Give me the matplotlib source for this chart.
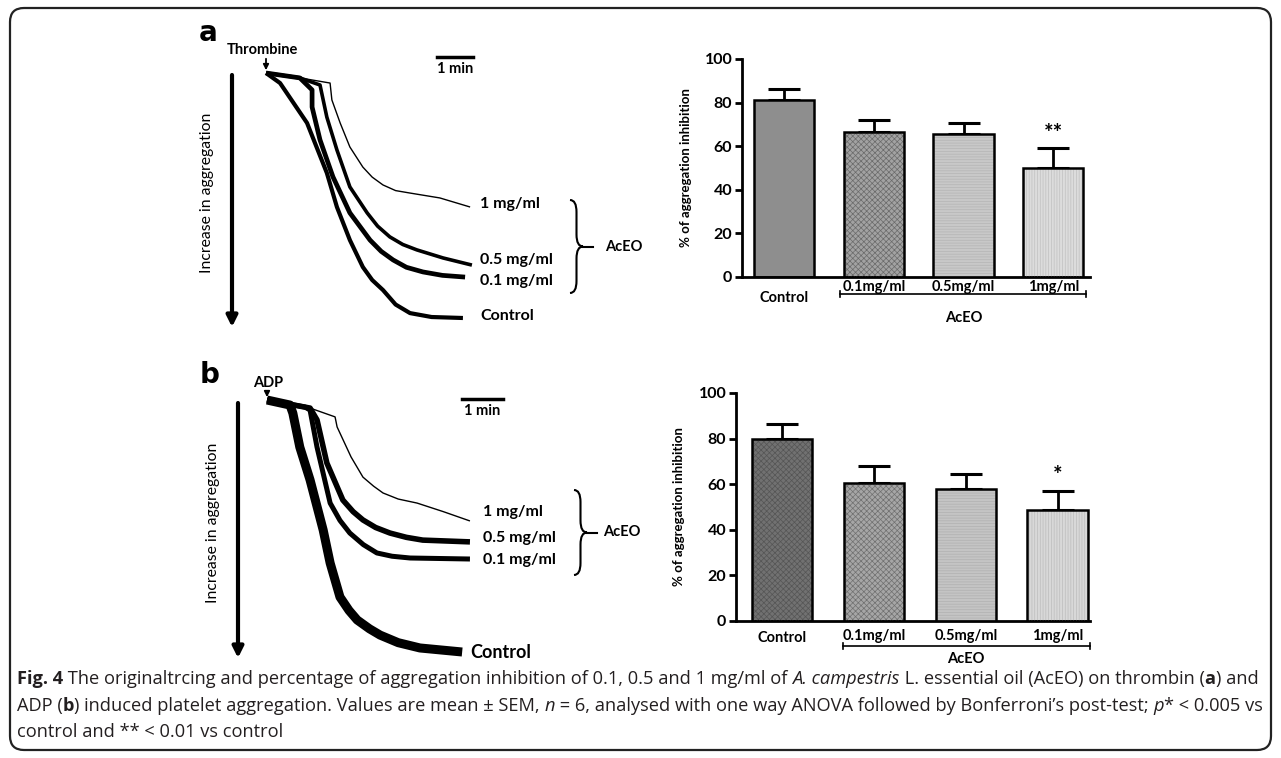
import numpy as np
import matplotlib
matplotlib.use('Agg')
import matplotlib.pyplot as plt
from matplotlib import font_manager
from matplotlib.patches import FancyBboxPatch, PathPatch
from matplotlib.path import Path

# ---- bar chart data (% of aggregation inhibition, mean + SEM) ----
groups = ['Control', '0.1mg/ml', '0.5mg/ml', '1mg/ml']
thrombin_mean = [81.2, 66.7, 65.6, 50.0]
thrombin_sem = [5.0, 5.3, 5.2, 9.3]
adp_mean = [79.8, 60.5, 57.9, 48.7]
adp_sem = [6.6, 7.5, 6.6, 8.3]

# ---- aggregation traces (time in min, aggregation in arbitrary %) ----
trace_names = ['1 mg/ml', '0.5 mg/ml', '0.1 mg/ml', 'Control']
thr_t = [
    [0, 0.94, 1.78, 1.83, 2.06, 2.33, 2.69, 2.95, 3.25, 3.6, 4.0, 4.83, 5.67],
    [0, 0.94, 1.5, 1.69, 1.97, 2.33, 2.81, 3.1, 3.44, 3.8, 4.19, 4.92, 5.72],
    [0, 0.94, 1.28, 1.28, 1.5, 1.86, 2.33, 2.89, 3.2, 3.53, 3.9, 4.36, 4.9, 5.53],
    [0, 0.39, 1.14, 1.69, 1.97, 2.33, 2.69, 2.95, 3.25, 3.6, 4.0, 4.6, 5.47],
]
thr_agg = [
    [0, 2.0, 4.1, 11.0, 20.4, 30.2, 38.4, 42.5, 45.7, 48.0, 49.0, 51.0, 54.7],
    [0, 2.0, 4.9, 18.0, 31.4, 46.5, 57.1, 62.5, 66.9, 70.0, 72.2, 75.5, 78.4],
    [0, 2.0, 6.9, 13.9, 27.3, 42.4, 57.1, 68.2, 72.8, 76.3, 79.3, 81.2, 82.6, 83.3],
    [0, 4.1, 20.4, 40.8, 54.7, 68.2, 79.2, 84.5, 88.6, 94.5, 98.0, 99.6, 100.0],
]
adp_t = [
    [0, 1.05, 1.66, 1.71, 2.05, 2.34, 2.6, 2.83, 3.2, 3.66, 4.3, 4.95],
    [0, 1.05, 1.22, 1.46, 1.85, 2.1, 2.34, 2.65, 3.0, 3.4, 3.8, 4.95],
    [0, 0.93, 1.05, 1.22, 1.54, 1.78, 2.02, 2.35, 2.68, 3.05, 3.49, 4.95],
    [0, 0.56, 0.63, 0.80, 1.05, 1.37, 1.54, 1.78, 2.0, 2.20, 2.5, 2.76, 3.2, 3.73, 4.76],
]
adp_agg = [
    [0, 3.2, 6.7, 10.7, 22.6, 30.6, 34.2, 36.9, 39.3, 40.9, 44.3, 48.0],
    [0, 3.2, 7.9, 25.0, 39.7, 44.3, 47.6, 50.6, 52.8, 54.5, 55.6, 56.3],
    [0, 2.8, 4.0, 18.7, 40.9, 47.8, 52.8, 57.4, 60.7, 62.0, 62.7, 63.1],
    [0, 2.0, 5.2, 18.7, 31.7, 51.6, 64.7, 78.2, 83.5, 87.3, 90.8, 93.3, 96.3, 98.4, 100.0],
]

W, H = 1281, 758


def has_font(name):
    try:
        font_manager.findfont(font_manager.FontProperties(family=name), fallback_to_default=False)
        return True
    except Exception:
        return False


LAB = 'Lato' if has_font('Lato') else 'DejaVu Sans'
NARROW = 'Liberation Sans Narrow' if has_font('Liberation Sans Narrow') else LAB
CAP = 'Open Sans' if has_font('Open Sans') else 'DejaVu Sans'
plt.rcParams['hatch.linewidth'] = 0.5

fig = plt.figure(figsize=(W / 100, H / 100), dpi=100)
rend = fig.canvas.get_renderer()


def rect(x0, y0, x1, y1):
    return [x0 / W, 1 - y1 / H, (x1 - x0) / W, (y1 - y0) / H]


ov = fig.add_axes([0, 0, 1, 1])
ov.set_xlim(0, W)
ov.set_ylim(H, 0)
ov.axis('off')

ov.add_patch(FancyBboxPatch((10, 8), 1261, 742, boxstyle='round,pad=0,rounding_size=14',
                            fc='none', ec='#222222', lw=1.6))


def fit_text(x, y, s, width, size0=12, **kw):
    t = ov.text(x, y, s, fontsize=size0, **kw)
    bb = t.get_window_extent(rend)
    w = bb.height if kw.get('rotation') == 90 else bb.width
    t.set_fontsize(size0 * width / w)
    return t


def brace(x0, ytop, ybot, w, dash):
    ym = (ytop + ybot) / 2
    r = min(12, (ybot - ytop) / 4)
    xm = x0 + w / 2
    verts = [(x0, ytop), (xm, ytop), (xm, ytop + r),
             (xm, ym - r), (xm, ym), (x0 + w, ym),
             (xm, ym), (xm, ym + r),
             (xm, ybot - r), (xm, ybot), (x0, ybot)]
    codes = [Path.MOVETO, Path.CURVE3, Path.CURVE3,
             Path.LINETO, Path.CURVE3, Path.CURVE3,
             Path.CURVE3, Path.CURVE3,
             Path.LINETO, Path.CURVE3, Path.CURVE3]
    ov.add_patch(PathPatch(Path(verts, codes), fc='none', ec='k', lw=1.5))
    ov.plot([x0 + w, x0 + w + dash], [ym, ym], color='k', lw=1.5)


def trace_panel(box, tlist, alist, widths, label_xy, label_sizes, stim, stim_xy, scale_y,
                letter, letter_xy, arrow_x, arrow_y, brace_args, aceo_xy):
    ax = fig.add_axes(rect(*box))
    ax.set_xlim(0, 6)
    ax.set_ylim(100, 0)
    ax.axis('off')
    for t, a, lw in zip(tlist, alist, widths):
        ax.plot(t, a, color='k', lw=lw, solid_capstyle='butt', solid_joinstyle='round',
                clip_on=False)
    # 1 min scale bar
    sb_x0 = 6 - 1.25
    ax.plot([sb_x0, sb_x0 + 1], [scale_y, scale_y], color='k', lw=2.5, clip_on=False)
    t0 = ax.transData.transform((sb_x0 + 0.5, scale_y))
    sx, sy = t0[0], H - t0[1]
    ov.text(sx, sy + 12, '1 min', ha='center', va='center', fontsize=10.5,
            fontweight='bold', family=LAB)
    for name, (lx, ly), fs in zip(trace_names, label_xy, label_sizes):
        ov.text(lx, ly, name, ha='left', va='center', fontsize=fs, fontweight='bold', family=LAB)
    # stimulus arrow
    ov.text(stim_xy[0], stim_xy[1], stim, ha='center', va='center', fontsize=10.5,
            fontweight='bold', family=LAB)
    origin = ax.transData.transform((0, 0))
    ox, oy = origin[0], H - origin[1]
    ov.annotate('', xy=(ox, oy), xytext=(ox, stim_xy[1] + 6),
                arrowprops=dict(arrowstyle='-|>', lw=1.3, color='k', mutation_scale=8))
    ov.text(letter_xy[0], letter_xy[1], letter, ha='center', va='center', fontsize=20,
            fontweight='bold', family='DejaVu Sans')
    ov.annotate('', xy=(arrow_x, arrow_y[1]), xytext=(arrow_x, arrow_y[0]),
                arrowprops=dict(arrowstyle='-|>', lw=3, color='k', mutation_scale=16,
                                shrinkA=0, shrinkB=0))
    fit_text(arrow_x - 25, (arrow_y[0] + arrow_y[1]) / 2 - 8, 'Increase in aggregation', 160,
             rotation=90, ha='center', va='center', family=NARROW)
    brace(*brace_args)
    ov.text(aceo_xy[0], aceo_xy[1], 'AcEO', ha='left', va='center', fontsize=10.5,
            fontweight='bold', family=LAB)


trace_panel((266, 73, 482, 318), thr_t, thr_agg, [1.0, 2.6, 3.4, 3.0],
            [(480, 204), (480, 260), (480, 281), (480, 316)], [11.5, 11.5, 11.5, 11.5],
            'Thrombine', (262, 50), -6.5, 'a', (208, 33), 232, (75, 327),
            (570, 200, 293, 13, 10), (605, 247))
trace_panel((267, 400, 513, 652), adp_t, adp_agg, [1.0, 4.0, 3.6, 6.5],
            [(483, 512), (483, 538), (483, 560), (470, 653)], [11.5, 11.5, 11.5, 13],
            'ADP', (268, 383), -0.4, 'b', (210, 375), 238, (403, 658),
            (574, 490, 575, 13, 10), (603, 532))


def bar_panel(box, xlim, means, sems, colors, hatches, hatch_cols, star, star_y,
              lab_y, ctrl_y, line_y, line_x, aceo_y, width):
    ax = fig.add_axes(rect(*box))
    x = np.arange(len(groups))
    ax.bar(x, means, width, color=colors, edgecolor='none', lw=0, zorder=2)
    for xi, m, ht, hc in zip(x, means, hatches, hatch_cols):
        if ht:
            ax.bar(xi, m, width, color='none', edgecolor=hc, hatch=ht, lw=0, zorder=3)
    ax.bar(x, means, width, color='none', edgecolor='k', lw=1.8, zorder=4)
    ax.errorbar(x, means, yerr=[np.zeros(len(x)), sems], fmt='none', ecolor='k',
                elinewidth=2, capsize=11.5, capthick=2.2, zorder=1)
    ax.set_xlim(*xlim)
    ax.set_ylim(0, 100)
    ax.set_yticks(range(0, 101, 20))
    ax.set_xticks([])
    for s in ['top', 'right']:
        ax.spines[s].set_visible(False)
    for s in ['left', 'bottom']:
        ax.spines[s].set_linewidth(2)
    ax.tick_params(axis='y', length=5, width=2, pad=2, labelsize=11.5)
    for lab in ax.get_yticklabels():
        lab.set_fontweight('bold')
        lab.set_family(LAB)
    ax.set_ylabel('% of aggregation inhibition', fontsize=9.5, fontweight='bold', family=LAB)
    ax.yaxis.set_label_coords(-0.145, 0.5)
    for xi, g in zip(x, groups):
        ax.text(xi, ctrl_y if xi == 0 else lab_y, g, ha='center', va='center', fontsize=10.5,
                fontweight='bold', family=LAB, clip_on=False)
    ax.plot(line_x, [line_y, line_y], color='k', lw=1.2, clip_on=False)
    for lx in line_x:
        ax.plot([lx, lx], [line_y - 1.2, line_y + 1.2], color='k', lw=1.2, clip_on=False)
    ax.text(np.mean(x[1:]), aceo_y, 'AcEO', ha='center', va='center', fontsize=10.5,
            fontweight='bold', family=LAB, clip_on=False)
    ax.text(x[-1], star_y, star, ha='center', va='center', fontsize=16,
            fontweight='bold', family=LAB)
    return ax


bar_panel((742, 59, 1090, 277), (-0.47, 3.41), thrombin_mean, thrombin_sem,
          ['#8e8e8e', '#a2a2a2', '#c8c8c8', '#dcdcdc'],
          ['', 'xxxxxx', '------', '||||||'],
          ['', '#6a6a6a', '#b4b4b4', '#c0c0c0'],
          '**', 66, -4.8, -9.5, -7.8, [0.62, 3.36], -18.8, 0.67)
bar_panel((736, 393, 1090, 621), (-0.5, 3.35), adp_mean, adp_sem,
          ['#717171', '#a6a6a6', '#c4c4c4', '#d8d8d8'],
          ['xxxxxx', 'xxxxxx', '------', '||||||'],
          ['#555555', '#707070', '#b0b0b0', '#bcbcbc'],
          '*', 64, -6.5, -7.5, -11.0, [0.66, 3.35], -16.5, 0.66)

# ---- caption ----
cap_lines = [
    [('Fig. 4', 'bold'), (' The originaltrcing and percentage of aggregation inhibition of 0.1, 0.5 and 1 mg/ml of ', 'normal'),
     ('A. campestris', 'italic'), (' L. essential oil (AcEO) on thrombin (', 'normal'), ('a', 'bold'), (') and', 'normal')],
    [('ADP (', 'normal'), ('b', 'bold'),
     (') induced platelet aggregation. Values are mean \u00b1 SEM, ', 'normal'), ('n', 'italic'),
     (' = 6, analysed with one way ANOVA followed by Bonferroni\u2019s post-test; ', 'normal'),
     ('p', 'italic'), ('* < 0.005 vs', 'normal')],
    [('control and ** < 0.01 vs control', 'normal')],
]


def run_width(s, style, size):
    kw = dict(fontsize=size, family=CAP)
    if style == 'bold':
        kw['fontweight'] = 'bold'
    if style == 'italic':
        kw['fontstyle'] = 'italic'
    t = ov.text(0, 0, s + '|', **kw)
    w1 = t.get_window_extent(rend).width
    t.set_text('|')
    w2 = t.get_window_extent(rend).width
    t.remove()
    return w1 - w2, kw


base = 10.0
w_line1 = sum(run_width(s, st, base)[0] for s, st in cap_lines[0])
cap_size = base * 1245 / w_line1

for line, yb in zip(cap_lines, [684, 711, 737]):
    xc = 17
    for s, st in line:
        w, kw = run_width(s, st, cap_size)
        ov.text(xc, yb, s, va='baseline', color='#231f20', **kw)
        xc += w

fig.savefig('out.png', dpi=100)
